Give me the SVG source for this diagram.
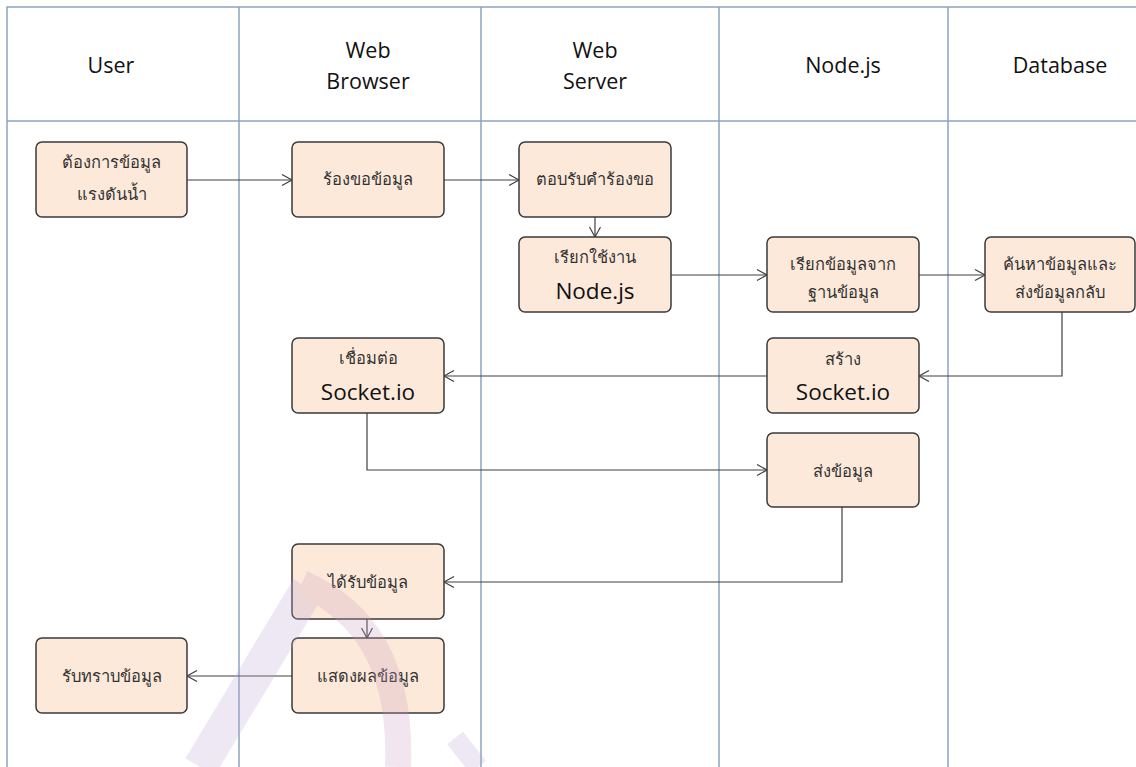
<svg xmlns="http://www.w3.org/2000/svg" width="1136" height="767" viewBox="0 0 1136 767">
<style>
.lane{stroke:#8aa4c0;stroke-width:1.5;fill:none}
.hdr{font-family:"Open Sans","Liberation Sans",sans-serif;font-size:21.5px;fill:#111;text-anchor:middle}
.box{fill:#fde9da;stroke:#3a3a3a;stroke-width:1.5}
.th{font-family:"Noto Sans","DejaVu Sans",sans-serif;font-size:16.5px;fill:#333;text-anchor:middle}
.en{font-family:"Open Sans","Liberation Sans",sans-serif;font-size:22.5px;fill:#111;text-anchor:middle}
.con{stroke:#404040;stroke-width:1.2;fill:none;marker-end:url(#arr)}
</style>
<defs>
<marker id="arr" markerUnits="userSpaceOnUse" markerWidth="14" markerHeight="14" refX="11" refY="6" orient="auto">
<path d="M1,0.5 L11,6 L1,11.5" fill="none" stroke="#404040" stroke-width="1.2"/>
</marker>
</defs>
<rect width="1136" height="767" fill="#ffffff"/>
<g id="lanes">
<path class="lane" d="M7,767 V7 H1136"/>
<path class="lane" d="M7,121 H1136"/>
<path class="lane" d="M239,7 V767 M481,7 V767 M719,7 V767 M948,7 V767"/>
<text class="hdr" x="111" y="73">User</text>
<text class="hdr" x="368" y="58">Web</text>
<text class="hdr" x="368" y="89">Browser</text>
<text class="hdr" x="595" y="58">Web</text>
<text class="hdr" x="595" y="89">Server</text>
<text class="hdr" x="843" y="73">Node.js</text>
<text class="hdr" x="1060" y="73">Database</text>
</g>
<g id="connectors">
<path class="con" d="M187,180 H292"/>
<path class="con" d="M444,180 H519"/>
<path class="con" d="M595,217 V237"/>
<path class="con" d="M671,275 H767"/>
<path class="con" d="M919,275 H985"/>
<path class="con" d="M1062,312 V376 H919"/>
<path class="con" d="M767,376 H444"/>
<path class="con" d="M367,413 V470 H767"/>
<path class="con" d="M842,507 V582 H444"/>
<path class="con" d="M367,619 V638"/>
<path class="con" d="M292,676 H187"/>
</g>
<g id="n1"><rect class="box" x="36" y="142" width="151" height="75" rx="6"/><text class="th" x="111.5" y="168">ต้องการข้อมูล</text><text class="th" x="111.5" y="200">แรงดันน้ำ</text></g>
<g id="n2"><rect class="box" x="292" y="142" width="152" height="75" rx="6"/><text class="th" x="368" y="185">ร้องขอข้อมูล</text></g>
<g id="n3"><rect class="box" x="519" y="142" width="152" height="75" rx="6"/><text class="th" x="595" y="185">ตอบรับคำร้องขอ</text></g>
<g id="n4"><rect class="box" x="519" y="237" width="152" height="75" rx="6"/><text class="th" x="595" y="263">เรียกใช้งาน</text><text class="en" x="595" y="299">Node.js</text></g>
<g id="n5"><rect class="box" x="767" y="237" width="152" height="75" rx="6"/><text class="th" x="843" y="270">เรียกข้อมูลจาก</text><text class="th" x="843" y="298">ฐานข้อมูล</text></g>
<g id="n6"><rect class="box" x="985" y="237" width="150" height="75" rx="6"/><text class="th" x="1060" y="270">ค้นหาข้อมูลและ</text><text class="th" x="1060" y="298">ส่งข้อมูลกลับ</text></g>
<g id="n7"><rect class="box" x="767" y="338" width="152" height="75" rx="6"/><text class="th" x="843" y="365">สร้าง</text><text class="en" x="843" y="400">Socket.io</text></g>
<g id="n8"><rect class="box" x="292" y="338" width="152" height="75" rx="6"/><text class="th" x="368" y="364">เชื่อมต่อ</text><text class="en" x="368" y="400">Socket.io</text></g>
<g id="n9"><rect class="box" x="767" y="433" width="152" height="74" rx="6"/><text class="th" x="843" y="477">ส่งข้อมูล</text></g>
<g id="n10"><rect class="box" x="292" y="544" width="152" height="75" rx="6"/><text class="th" x="368" y="588">ได้รับข้อมูล</text></g>
<g id="n11"><rect class="box" x="292" y="638" width="152" height="75" rx="6"/><text class="th" x="368" y="682">แสดงผลข้อมูล</text></g>
<g id="n12"><rect class="box" x="36" y="638" width="151" height="75" rx="6"/><text class="th" x="111.5" y="682">รับทราบข้อมูล</text></g>
<g id="watermark" fill="none" stroke-linecap="butt" opacity="0.25">
<path d="M308,588 L200,767" stroke="#b9a6d6" stroke-width="34"/>
<path d="M302,583 C362,610 402,662 398,767" stroke="#c9a0c0" stroke-width="26"/>
<path d="M455,738 L478,767" stroke="#b9a6d6" stroke-width="20"/>
</g>
</svg>
